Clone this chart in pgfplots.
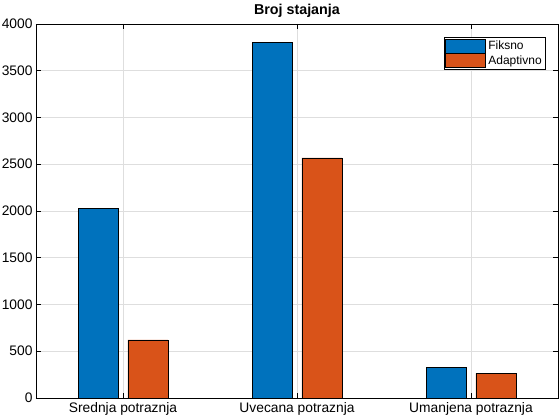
\documentclass[border=0pt]{standalone}
\usepackage{fontspec}
\setmainfont{Liberation Sans}
\usepackage{pgfplots}
\pgfplotsset{compat=1.18}
\definecolor{mblue}{RGB}{0,114,189}
\definecolor{morange}{RGB}{217,83,25}
\begin{document}
\begin{tikzpicture}[font=\fontsize{13.8}{15}\selectfont]
\path[use as bounding box] (-36pt,-22pt) rectangle (524pt,398pt);
\begin{axis}[
  at={(0pt,0pt)}, anchor=south west,
  scale only axis, width=522pt, height=374pt,
  xmin=0.5, xmax=3.5, ymin=0, ymax=4000,
  xtick={1,2,3},
  xticklabels={Srednja potraznja, Uvecana potraznja, Umanjena potraznja},
  ytick={0,500,...,4000},
  scaled y ticks=false,
  /pgf/number format/assume math mode=true,
  /pgf/number format/1000 sep={},
  grid=major,
  grid style={black!13, line width=0.5pt},
  tick align=inside,
  major tick length=5pt,
  tick style={black, line width=0.5pt},
  axis line style={black, line width=0.6pt},
  title={\textbf{Broj stajanja}},
  title style={at={(0.5,1)}, anchor=south, yshift=-3pt, font=\fontsize{14.3}{15}\selectfont},
  xticklabel style={yshift=-1pt},
  yticklabel style={xshift=0pt},
  legend cell align=left,
  legend style={at={(1,1)}, anchor=north east, xshift=-12pt, yshift=-13pt,
    draw=black, line width=0.6pt, inner sep=1.5pt, row sep=0pt,
    font=\fontsize{12}{13}\selectfont,
    nodes={inner xsep=2.5pt, inner ysep=1.2pt}},
  legend image code/.code={\draw[#1, line width=0.5pt] (0pt,-7pt) rectangle (40pt,7pt);},
]
\addplot[ybar, bar width=0.229, bar shift=-0.143, fill=mblue, draw=black, line width=0.6pt]
  coordinates {(1,2030) (2,3800) (3,327)};
\addlegendentry{Fiksno}
\addplot[ybar, bar width=0.229, bar shift=0.143, fill=morange, draw=black, line width=0.6pt]
  coordinates {(1,622) (2,2567) (3,263)};
\addlegendentry{Adaptivno}
\end{axis}
\end{tikzpicture}
\end{document}
